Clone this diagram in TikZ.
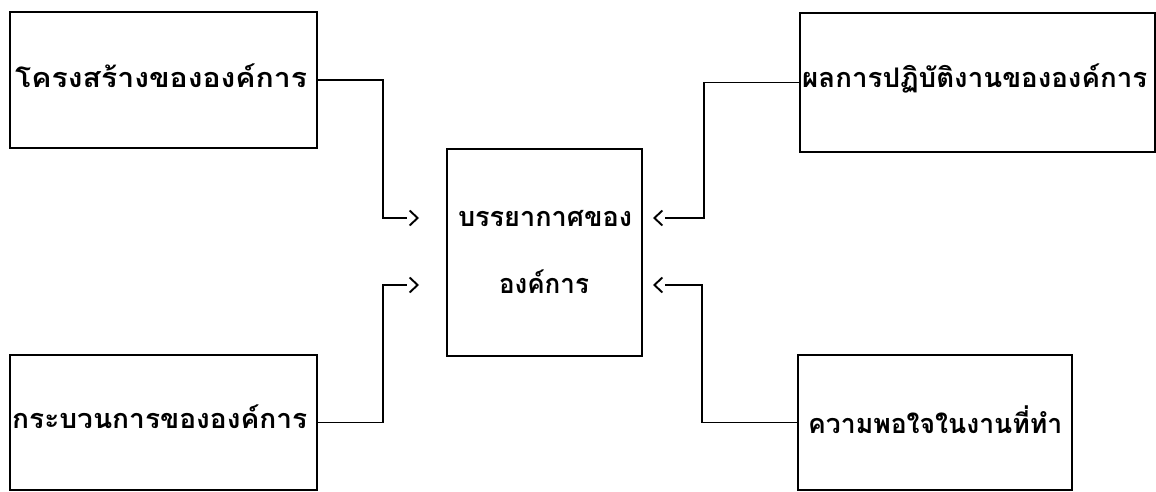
\documentclass[tikz,border=0pt]{standalone}
\usepackage{fontspec}
\usepackage{graphicx}
\newfontfamily\thaifont[Script=Thai]{Loma}
\usetikzlibrary{arrows.meta,calc,decorations.markings}
\newsavebox\fitbox
\newcommand\fitto[2]{\sbox\fitbox{#2}\pgfmathsetmacro\fitfac{#1/\wd\fitbox}\scalebox{\fitfac}[1]{\usebox\fitbox}}
\tikzset{
  box/.style={draw, line width=2.4pt, minimum width=#1, inner sep=0pt},
  txt/.style={anchor=base west, inner sep=0pt, font=\thaifont\bfseries\fontsize{27}{32}\selectfont},
  ctxt/.style={anchor=base, inner sep=0pt, font=\thaifont\bfseries\fontsize{27}{32}\selectfont},
  conn/.style={line width=1.9pt, shorten >=12pt,
    postaction={decorate, shorten >=0pt, decoration={markings,
      mark=at position 1 with {\arrow[line width=1.9pt]{Straight Barb[length=8pt,width=15pt]}}}}}
}
\begin{document}
\begin{tikzpicture}[x=1pt,y=-1pt]
\useasboundingbox (0,0) rectangle (1156,492);
% boxes
\node[box=307pt, minimum height=136pt] (b1) at (163.5,80) {};
\node[box=307pt, minimum height=135pt] (b2) at (163.5,422.5) {};
\node[box=195pt, minimum height=207pt] (c) at (544.5,252.5) {};
\node[box=355pt, minimum height=139pt] (r1) at (977.5,82.5) {};
\node[box=274pt, minimum height=135pt] (r2) at (935,422.5) {};
% texts
\node[txt] (t1) at (15,88) {\fitto{292}{โครงสร้างขององค์การ}};
\node[txt] (t2) at (12,428) {\fitto{295}{กระบวนการขององค์การ}};
\node[txt] (t3) at (802,88) {\fitto{345}{ผลการปฏิบัติงานขององค์การ}};
\node[txt] (t4) at (808,433) {\fitto{254}{ความพอใจในงานที่ทำ}};
\node[ctxt] (tc1) at (545,226) {\fitto{174}{บรรยากาศของ}};
\node[ctxt] (tc2) at (544,293) {\fitto{90}{องค์การ}};
% arrow tips
\coordinate (inL1) at (419,218);
\coordinate (inL2) at (419,285);
\coordinate (inR1) at (653,218);
\coordinate (inR2) at (653,285);
% connectors
\draw[conn] (b1.east) -- ++(65,0) |- (inL1);
\draw[conn] (b2.east) -- ++(65,0) |- (inL2);
\draw[conn] (r1.west) -- ++(-95,0) |- (inR1);
\draw[conn] (r2.west) -- ++(-95,0) |- (inR2);
\end{tikzpicture}
\end{document}
